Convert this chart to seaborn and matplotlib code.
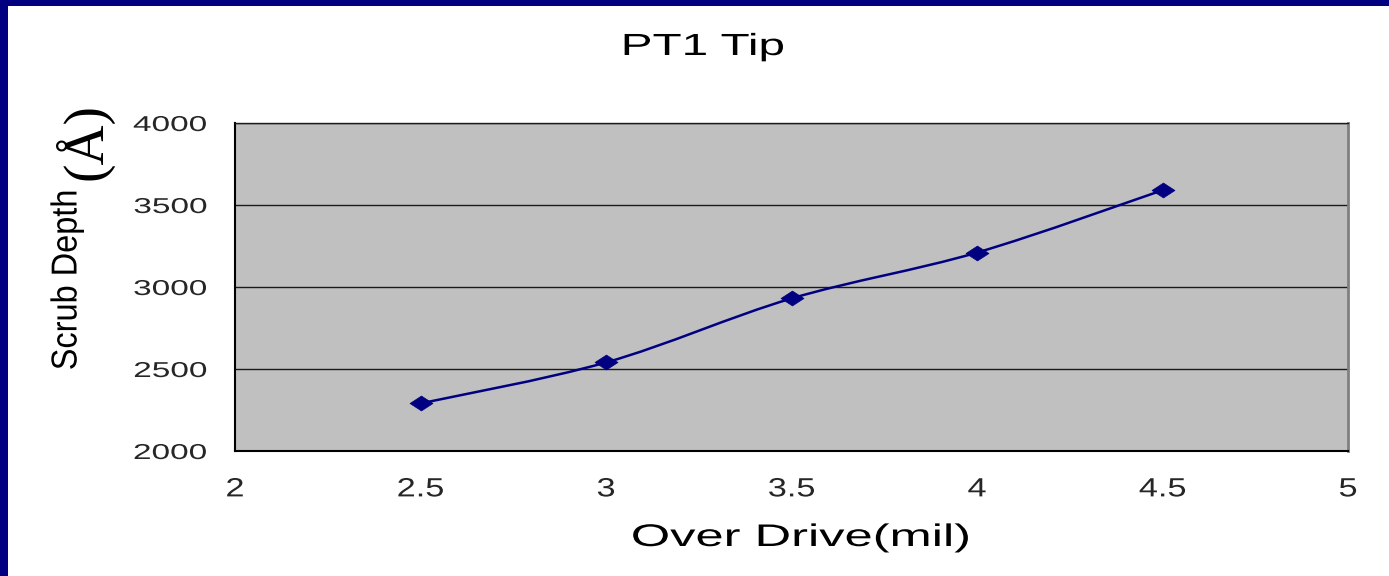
import matplotlib
matplotlib.use("Agg")
import matplotlib.pyplot as plt
import seaborn as sns
from matplotlib.path import Path
from matplotlib.patches import PathPatch, Rectangle
from matplotlib.transforms import Affine2D
from matplotlib import patheffects
from matplotlib.markers import MarkerStyle

# ---- data -------------------------------------------------------------
over_drive = [2.5, 3.0, 3.5, 4.0, 4.5]
scrub_depth = [2290, 2540, 2930, 3210, 3590]

x_ticks = [2, 2.5, 3, 3.5, 4, 4.5, 5]
x_tick_labels = ["2", "2.5", "3", "3.5", "4", "4.5", "5"]
y_ticks = [2000, 2500, 3000, 3500, 4000]
y_tick_labels = ["2000", "2500", "3000", "3500", "4000"]

title = "PT1 Tip"
x_label = "Over Drive(mil)"
y_label = "Scrub Depth"
y_unit = "(Å)"

# ---- style ------------------------------------------------------------
NAVY = "#000080"
PLOT_BG = "#C0C0C0"
W, H = 1389, 576


class Stretch(patheffects.AbstractPathEffect):
    """Widen glyphs along the text direction around an anchor."""

    def __init__(self, sx, anchor="center"):
        super().__init__()
        self.sx = sx
        self.anchor = anchor

    def draw_path(self, renderer, gc, tpath, affine, rgbFace=None):
        ext = tpath.get_extents()
        if self.anchor == "right":
            a = ext.x1
        elif self.anchor == "left":
            a = ext.x0
        else:
            a = 0.5 * (ext.x0 + ext.x1)
        widen = Affine2D().translate(-a, 0).scale(self.sx, 1).translate(a, 0)
        renderer.draw_path(gc, tpath, widen + affine, rgbFace)


sns.set_style("white")
plt.rcParams["font.family"] = ["Liberation Sans", "DejaVu Sans"]

fig = plt.figure(figsize=(W / 100, H / 100), dpi=100, facecolor=NAVY)
fig.add_artist(Rectangle((8 / W, 0), 1 - 8 / W, 1 - 6 / H,
                         transform=fig.transFigure, facecolor="white",
                         edgecolor="none", zorder=-10))

left, right, top, bottom = 235, 1348, 123, 451
ax = fig.add_axes([left / W, 1 - bottom / H, (right - left) / W, (bottom - top) / H])
ax.set_facecolor(PLOT_BG)

# smoothed connecting curve (cubic Bezier segments through the points)
pts = list(zip(over_drive, scrub_depth))
verts = [pts[0]]
codes = [Path.MOVETO]
for i in range(len(pts) - 1):
    p0 = pts[i - 1] if i > 0 else pts[i]
    p1 = pts[i]
    p2 = pts[i + 1]
    p3 = pts[i + 2] if i + 2 < len(pts) else pts[i + 1]
    c1 = (p1[0] + (p2[0] - p0[0]) / 6, p1[1] + (p2[1] - p0[1]) / 6)
    c2 = (p2[0] - (p3[0] - p1[0]) / 6, p2[1] - (p3[1] - p1[1]) / 6)
    verts += [c1, c2, p2]
    codes += [Path.CURVE4] * 3
ax.add_patch(PathPatch(Path(verts, codes), facecolor="none", edgecolor=NAVY,
                       lw=1.8, zorder=3))

diamond = MarkerStyle(Path([(-1, 0), (0, 0.65), (1, 0), (0, -0.65), (-1, 0)],
                           [Path.MOVETO, Path.LINETO, Path.LINETO, Path.LINETO,
                            Path.CLOSEPOLY]))
sns.lineplot(x=over_drive, y=scrub_depth, ax=ax, color=NAVY, linestyle="none",
             marker=diamond, markersize=16.5, markeredgecolor=NAVY,
             markeredgewidth=0.5, errorbar=None, zorder=4)

ax.set_xlim(2, 5)
ax.set_ylim(2000, 4000)
ax.set_xticks(x_ticks, labels=x_tick_labels)
ax.set_yticks(y_ticks, labels=y_tick_labels)
ax.set_axisbelow(True)
ax.yaxis.grid(True, color="#1a1a1a", lw=1.0)
ax.xaxis.grid(False)

ax.tick_params(direction="in", length=6, width=1, color="black")
ax.tick_params(axis="x", labelsize=19, pad=19)
ax.tick_params(axis="y", labelsize=15.5, pad=20)

for side in ("left", "bottom"):
    ax.spines[side].set_color("black")
    ax.spines[side].set_linewidth(1.5)
ax.spines["top"].set_color("#1a1a1a")
ax.spines["top"].set_linewidth(1.0)
ax.spines["right"].set_color("#808080")
ax.spines["right"].set_linewidth(2.0)

for lbl in ax.get_xticklabels():
    lbl.set_path_effects([Stretch(1.3, "center")])
for lbl in ax.get_yticklabels():
    lbl.set_path_effects([Stretch(1.55, "right")])

# title and axis labels
fig.text(703 / W, 1 - 55 / H, title, ha="center", va="baseline", fontsize=22,
         color="black", path_effects=[Stretch(1.56)])

xl = ax.set_xlabel(x_label, fontsize=22.5, color="black",
                   path_effects=[Stretch(1.62)])
xl.set_va("baseline")
ax.xaxis.set_label_coords((801 - left) / (right - left), (bottom - 546) / (bottom - top))

yl = ax.set_ylabel(y_label, fontsize=26, color="black",
                   path_effects=[Stretch(0.9)])
yl.set_va("center")
ax.yaxis.set_label_coords((67 - left) / (right - left), (bottom - 280) / (bottom - top))

ax.text((84 - left) / (right - left), (bottom - 141) / (bottom - top), y_unit,
        transform=ax.transAxes, rotation=90, ha="center", va="center",
        fontsize=40, family=["Liberation Serif", "DejaVu Serif"], color="black")

fig.savefig("out.png", dpi=100, facecolor=NAVY)
